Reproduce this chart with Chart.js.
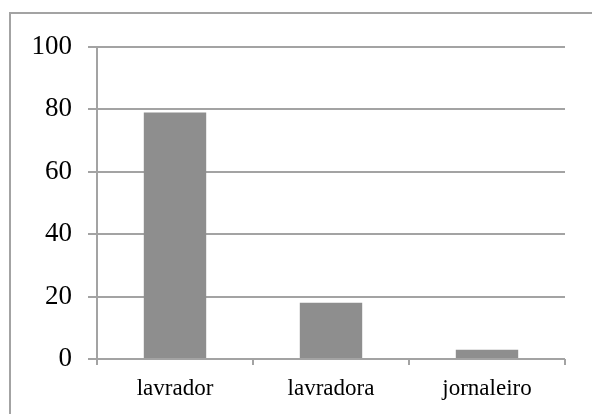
<!DOCTYPE html>
<html>
<head>
<meta charset="utf-8">
<script src="https://cdn.jsdelivr.net/npm/chart.js@4"></script>
<style>
  html, body { margin: 0; padding: 0; background: #fff; }
  #wrap { width: 592px; height: 414px; position: relative; }
</style>
</head>
<body>
<div id="wrap"><canvas id="chart"></canvas></div>
<script>
const categories = ['lavrador', 'lavradora', 'jornaleiro'];
const values = [79, 18, 3];
const yTicks = [0, 20, 40, 60, 80, 100];

const gridGrey = '#a3a3a3';

// outer frame of the chart object (only top and left edges are visible)
const framePlugin = {
  id: 'frame',
  beforeDraw(chart) {
    const c = chart.ctx;
    c.save();
    c.strokeStyle = gridGrey;
    c.lineWidth = 2;
    c.strokeRect(10, 13, 620, 440);
    c.restore();
  }
};

const ctx = document.getElementById('chart').getContext('2d');
new Chart(ctx, {
  type: 'bar',
  data: {
    labels: categories,
    datasets: [{
      data: values,
      backgroundColor: '#8e8e8e',
      borderWidth: 0,
      barPercentage: 0.4,
      categoryPercentage: 1
    }]
  },
  options: {
    responsive: true,
    maintainAspectRatio: false,
    animation: false,
    layout: { padding: { left: 0, top: 47, right: 27, bottom: 0 } },
    plugins: {
      legend: { display: false },
      tooltip: { enabled: false }
    },
    scales: {
      x: {
        grid: {
          drawOnChartArea: false,
          tickLength: 6,
          color: gridGrey,
          lineWidth: 2,
          offset: true
        },
        border: { display: false },
        ticks: {
          color: '#000',
          padding: 10,
          font: { family: '"Liberation Serif", serif', size: 23 }
        },
        afterFit(scale) { scale.height = 55; }
      },
      y: {
        min: 0,
        max: 100,
        afterBuildTicks(scale) { scale.ticks = yTicks.map(v => ({ value: v })); },
        grid: {
          color: gridGrey,
          lineWidth: 2,
          tickLength: 9
        },
        border: { display: true, color: gridGrey, width: 2 },
        ticks: {
          color: '#000',
          padding: 16,
          font: { family: '"Liberation Serif", serif', size: 27 }
        },
        afterFit(scale) { scale.width = 97; }
      }
    }
  },
  plugins: [framePlugin]
});
</script>
</body>
</html>
